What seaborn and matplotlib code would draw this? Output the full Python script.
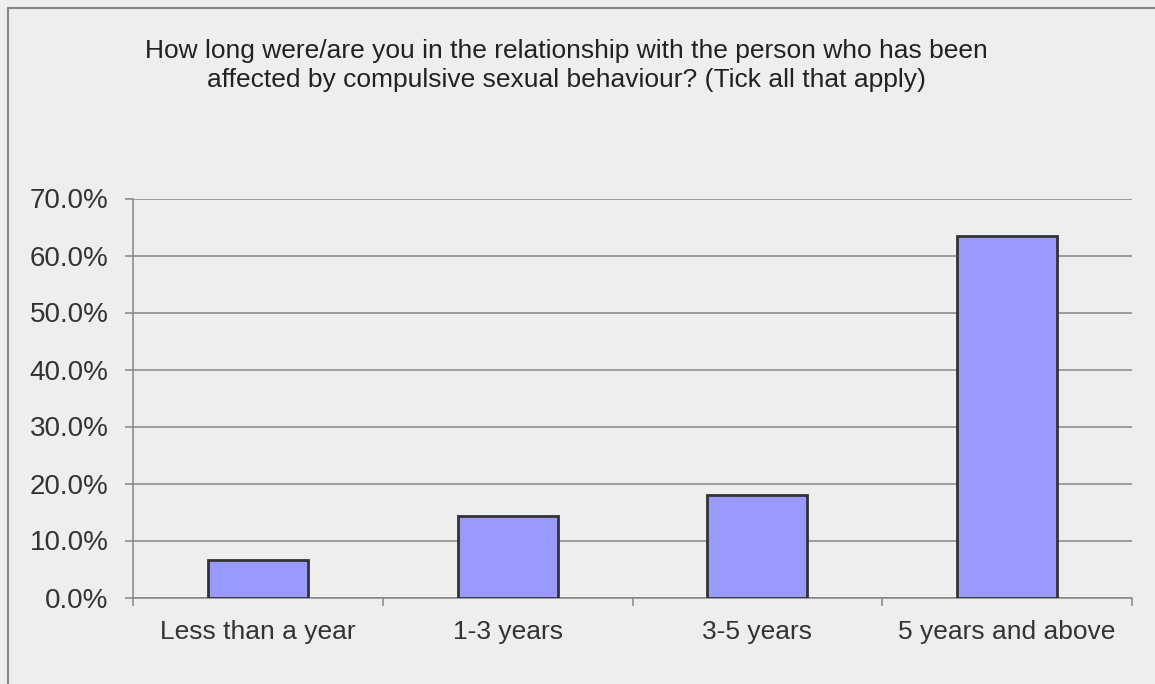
import matplotlib
matplotlib.use("Agg")
import matplotlib.pyplot as plt
from matplotlib.patches import Rectangle
from matplotlib.ticker import FixedLocator, FuncFormatter
import seaborn as sns
import pandas as pd

# Survey responses: relationship duration (percent of respondents)
categories = ["Less than a year", "1-3 years", "3-5 years", "5 years and above"]
percentages = [6.5, 14.3, 17.9, 63.5]
y_ticks = [0, 10, 20, 30, 40, 50, 60, 70]
title_text = ("How long were/are you in the relationship with the person who has been\n"
              "affected by compulsive sexual behaviour? (Tick all that apply)")

sns.set_theme(style="white")
plt.rcParams["font.family"] = ["Liberation Sans", "DejaVu Sans"]

W, H = 1155, 684
bg = "#EEEEEE"
text_color = "#333333"
line_color = "#868686"

fig = plt.figure(figsize=(W / 100, H / 100), dpi=100, facecolor=bg)
ax = fig.add_axes([133 / W, 1 - 597.5 / H, (1132 - 133) / W, (597.5 - 198.5) / H])
ax.set_facecolor(bg)

df = pd.DataFrame({"duration": categories, "pct": percentages})
sns.barplot(data=df, x="duration", y="pct", ax=ax, color="#9999FF",
            saturation=1, width=0.4, edgecolor="#333333", linewidth=2.0,
            zorder=3)

ax.set_ylim(0, 70)
ax.set_xlim(-0.5, len(categories) - 0.5)
ax.yaxis.set_major_locator(FixedLocator(y_ticks))
ax.yaxis.set_major_formatter(FuncFormatter(lambda v, _: f"{v:.1f}%"))
ax.grid(axis="y", color=line_color, linewidth=1.1, zorder=0)
ax.grid(axis="x", visible=False)
ax.set_axisbelow(True)

for side in ("top", "right"):
    ax.spines[side].set_visible(False)
for side in ("left", "bottom"):
    ax.spines[side].set_color(line_color)
    ax.spines[side].set_linewidth(1.1)

ax.tick_params(axis="y", which="major", left=True, length=5.5, width=1.1,
               color=line_color, labelsize=20, labelcolor=text_color, pad=12)
# category labels centred, boundary ticks between categories
ax.tick_params(axis="x", which="major", bottom=False, labelsize=19,
               labelcolor=text_color, pad=10)
ax.xaxis.set_minor_locator(FixedLocator([i - 0.5 for i in range(len(categories) + 1)]))
ax.tick_params(axis="x", which="minor", bottom=True, length=5.5, width=1.1,
               color=line_color)
ax.set_xlabel("")
ax.set_ylabel("")

fig.text(566 / W, 1 - 65.5 / H, title_text, ha="center", va="center",
         fontsize=19, color="#222222", linespacing=1.22)

# outer chart frame
fig.patches.append(Rectangle((7.5 / W, -0.05), 1.1, 1 - 7.5 / H + 0.05,
                             transform=fig.transFigure, fill=False,
                             edgecolor=line_color, linewidth=1.5))

fig.savefig("out.png", dpi=100, facecolor=bg)
